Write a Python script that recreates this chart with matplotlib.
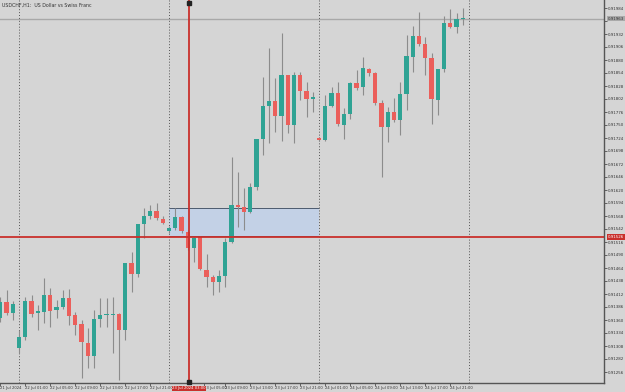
import matplotlib
matplotlib.use("Agg")
import matplotlib.pyplot as plt
import numpy as np
from matplotlib.transforms import blended_transform_factory

# ---- data (USDCHF H1) ----
opens = [0.91364, 0.91396, 0.91374, 0.91304, 0.91326, 0.91398, 0.91374, 0.91376, 0.91410, 0.91380,
         0.91386, 0.91404, 0.91370, 0.91352, 0.91314, 0.91288, 0.91362, 0.91370, 0.91370, 0.91372,
         0.91340, 0.91474, 0.91452, 0.91552, 0.91568, 0.91578, 0.91562, 0.91538, 0.91544, 0.91566,
         0.91536, 0.91504, 0.91526, 0.91460, 0.91446, 0.91436, 0.91448, 0.91516, 0.91590, 0.91586,
         0.91576, 0.91626, 0.91722, 0.91788, 0.91798, 0.91768, 0.91850, 0.91750, 0.91850, 0.91818,
         0.91802, 0.91724, 0.91720, 0.91788, 0.91814, 0.91750, 0.91772, 0.91834, 0.91826, 0.91862,
         0.91854, 0.91794, 0.91746, 0.91776, 0.91760, 0.91812, 0.91886, 0.91928, 0.91912, 0.91884,
         0.91800, 0.91862, 0.91954, 0.91946, 0.91962]
highs = [0.91406, 0.91420, 0.91398, 0.91340, 0.91406, 0.91410, 0.91390, 0.91444, 0.91424, 0.91400,
         0.91420, 0.91422, 0.91376, 0.91360, 0.91344, 0.91380, 0.91404, 0.91404, 0.91406, 0.91374,
         0.91474, 0.91496, 0.91552, 0.91584, 0.91590, 0.91594, 0.91568, 0.91548, 0.91584, 0.91568,
         0.91540, 0.91526, 0.91528, 0.91492, 0.91450, 0.91460, 0.91524, 0.91686, 0.91656, 0.91624,
         0.91634, 0.91722, 0.91846, 0.91904, 0.91844, 0.91934, 0.91850, 0.91856, 0.91856, 0.91836,
         0.91816, 0.91726, 0.91810, 0.91826, 0.91836, 0.91784, 0.91836, 0.91860, 0.91886, 0.91864,
         0.91856, 0.91800, 0.91786, 0.91804, 0.91836, 0.91930, 0.91948, 0.91976, 0.91926, 0.91894,
         0.91862, 0.91968, 0.91982, 0.91974, 0.91984]
lows = [0.91356, 0.91370, 0.91360, 0.91294, 0.91320, 0.91366, 0.91340, 0.91354, 0.91346, 0.91364,
        0.91382, 0.91350, 0.91330, 0.91244, 0.91264, 0.91264, 0.91346, 0.91346, 0.91294, 0.91240,
        0.91320, 0.91416, 0.91446, 0.91524, 0.91562, 0.91560, 0.91552, 0.91534, 0.91540, 0.91534,
        0.91500, 0.91476, 0.91460, 0.91426, 0.91410, 0.91416, 0.91426, 0.91514, 0.91546, 0.91540,
        0.91574, 0.91620, 0.91690, 0.91714, 0.91736, 0.91718, 0.91734, 0.91714, 0.91800, 0.91766,
        0.91776, 0.91718, 0.91718, 0.91786, 0.91748, 0.91722, 0.91762, 0.91820, 0.91810, 0.91848,
        0.91790, 0.91646, 0.91716, 0.91756, 0.91730, 0.91780, 0.91856, 0.91908, 0.91850, 0.91752,
        0.91770, 0.91856, 0.91944, 0.91934, 0.91950]
closes = [0.91396, 0.91374, 0.91392, 0.91326, 0.91398, 0.91372, 0.91378, 0.91410, 0.91378, 0.91386,
          0.91404, 0.91368, 0.91350, 0.91316, 0.91288, 0.91362, 0.91370, 0.91372, 0.91370, 0.91340,
          0.91474, 0.91452, 0.91552, 0.91568, 0.91578, 0.91564, 0.91554, 0.91544, 0.91566, 0.91538,
          0.91504, 0.91524, 0.91462, 0.91446, 0.91436, 0.91448, 0.91516, 0.91590, 0.91586, 0.91576,
          0.91626, 0.91722, 0.91788, 0.91798, 0.91768, 0.91850, 0.91750, 0.91850, 0.91818, 0.91802,
          0.91806, 0.91720, 0.91788, 0.91814, 0.91752, 0.91772, 0.91834, 0.91824, 0.91864, 0.91854,
          0.91794, 0.91746, 0.91776, 0.91760, 0.91812, 0.91888, 0.91928, 0.91912, 0.91884, 0.91802,
          0.91862, 0.91954, 0.91946, 0.91962, 0.91963]

x_tick_bars = [0, 4, 8, 12, 16, 20, 24, 32.55, 36, 40, 44, 48, 52, 56, 60, 64, 68, 72]
x_tick_labels = ["21 Jul 2024", "22 Jul 01:00", "22 Jul 05:00", "22 Jul 09:00", "22 Jul 13:00",
                 "22 Jul 17:00", "22 Jul 21:00", "23 Jul 05:00", "23 Jul 09:00",
                 "23 Jul 13:00", "23 Jul 17:00", "23 Jul 21:00", "24 Jul 01:00", "24 Jul 05:00",
                 "24 Jul 09:00", "24 Jul 13:00", "24 Jul 17:00", "24 Jul 21:00"]
y_tick_values = [0.91984, 0.91958, 0.91932, 0.91906, 0.91880, 0.91854, 0.91828, 0.91802, 0.91776,
                 0.91750, 0.91724, 0.91698, 0.91672, 0.91646, 0.91620, 0.91594, 0.91568, 0.91542,
                 0.91516, 0.91490, 0.91464, 0.91438, 0.91412, 0.91386, 0.91360, 0.91334, 0.91308,
                 0.91282, 0.91256]
day_separators = [3, 27, 51, 75]          # bar index of day start
zone_start, zone_end = 27, 51             # rectangle bar range
zone_top, zone_bottom = 0.91584, 0.91528
cross_bar = 30.2
cross_price = 0.91526
cross_time_label = "23 Jul 2024 03:00"
current_price = 0.91963
title = "USDCHF,H1:  US Dollar vs Swiss Franc"

# ---- figure ----
BG = "#d5d5d5"
BULL = "#2fa394"
BEAR = "#eb5f5b"
FS = 2.9
FSX = 2.7
fig = plt.figure(figsize=(6.25, 3.92), dpi=100, facecolor=BG)
ax = fig.add_axes([0, 9 / 392, 604 / 625, 383 / 392], facecolor=BG)

n = len(opens)
x = np.arange(n)
o = np.array(opens); c = np.array(closes); h = np.array(highs); l = np.array(lows)
up = c >= o
body_bottom = np.minimum(o, c)
body_h = np.maximum(np.abs(c - o), 0.000015)

ax.vlines(x, l, h, color="#8c8c8c", lw=0.8, zorder=2)
ax.bar(x[up], body_h[up], bottom=body_bottom[up], width=0.68, color=BULL, zorder=3, linewidth=0)
ax.bar(x[~up], body_h[~up], bottom=body_bottom[~up], width=0.68, color=BEAR, zorder=3, linewidth=0)

# day separators
for d in day_separators:
    ax.axvline(d, color="#555555", lw=0.7, ls=(0, (1, 2)), zorder=1)

# zone rectangle
ax.fill_between([zone_start, zone_end], zone_bottom, zone_top, color="#c3d1e6", zorder=0.5, lw=0)
ax.hlines([zone_top, zone_bottom], zone_start, zone_end, color="#4d5b6e", lw=0.7, zorder=0.6)

# current price line
ax.axhline(current_price, color="#a8a8a8", lw=1.0, zorder=0.8)

# crosshair
ax.axhline(cross_price, color="#c9302c", lw=1.3, zorder=5)
ax.axvline(cross_bar, color="#c9302c", lw=1.3, zorder=5)

ax.set_xlim(-0.04, 96.6)
ax.set_ylim(0.91234, 0.92000)

ax.plot([cross_bar], [0.91994], marker="s", ms=3, color="#222222", zorder=6, clip_on=False)
ax.plot([cross_bar], [0.91236], marker="s", ms=3, color="#222222", zorder=6, clip_on=False)

# axes styling
for s in ["top", "left"]:
    ax.spines[s].set_visible(False)
ax.spines["right"].set_color("#555555")
ax.spines["bottom"].set_color("#555555")
ax.spines["right"].set_linewidth(1.0)
ax.spines["bottom"].set_linewidth(1.0)
ax.yaxis.tick_right()
ax.set_yticks(y_tick_values)
ax.set_yticklabels(["" if abs(v - current_price) < 0.0001 else f"{v:.5f}" for v in y_tick_values])
ax.set_xticks(x_tick_bars)
ax.set_xticklabels(x_tick_labels, ha="left")
ax.tick_params(axis="y", labelsize=FS, length=2, width=0.5, pad=1, colors="#333333")
ax.tick_params(axis="x", labelsize=FSX, length=2, width=0.5, pad=0.5, colors="#333333")

# labels on axes
tr_y = blended_transform_factory(ax.transAxes, ax.transData)
ax.text(1.006, cross_price, f"{cross_price:.5f}", transform=tr_y, fontsize=FS, color="white",
        va="center", ha="left", zorder=10, clip_on=False,
        bbox=dict(boxstyle="square,pad=0.2", fc="#c9302c", ec="none"))
ax.text(1.006, current_price, f"{current_price:.5f}", transform=tr_y, fontsize=FS, color="#333333",
        va="center", ha="left", zorder=10, clip_on=False,
        bbox=dict(boxstyle="square,pad=0.2", fc="#a9a9a9", ec="none"))
tr_x = blended_transform_factory(ax.transData, ax.transAxes)
ax.text(cross_bar, -0.008, cross_time_label, transform=tr_x, fontsize=FSX, color="white",
        va="top", ha="center", zorder=10, clip_on=False,
        bbox=dict(boxstyle="square,pad=0.15", fc="#c9302c", ec="none"))

ax.text(0.003, 0.993, title, transform=ax.transAxes, fontsize=3.4, color="#333333", va="top", ha="left")

fig.savefig("out.png", dpi=100, facecolor=BG)
